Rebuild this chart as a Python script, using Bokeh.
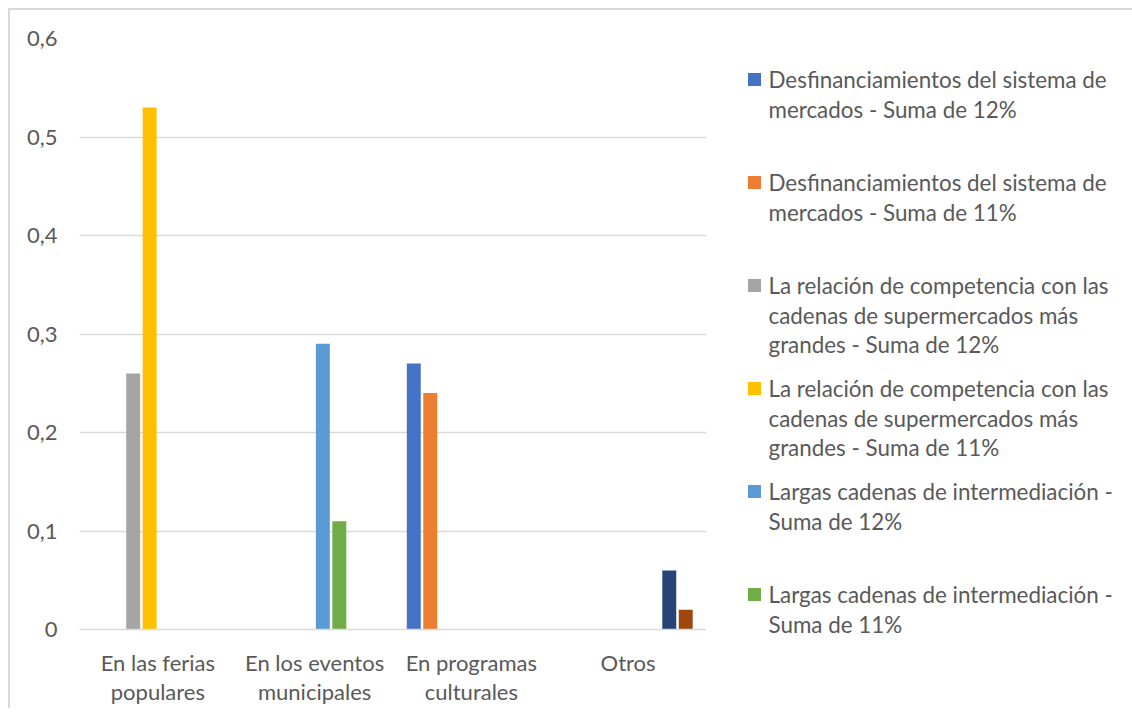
from bokeh.plotting import figure
from bokeh.models import FactorRange, Range1d, FixedTicker, CustomJSTickFormatter
from bokeh.layouts import row
from bokeh.transform import dodge
from bokeh.embed import file_html
from bokeh.resources import INLINE
from bokeh.core.properties import value

# ---------------- data ----------------
categories = ["En las ferias\npopulares", "En los eventos\nmunicipales",
              "En programas\nculturales", "Otros"]

desf_12 = [0.0, 0.0, 0.27, 0.0]
desf_11 = [0.0, 0.0, 0.24, 0.0]
rel_12 = [0.26, 0.0, 0.0, 0.0]
rel_11 = [0.53, 0.0, 0.0, 0.0]
largas_12 = [0.0, 0.29, 0.0, 0.0]
largas_11 = [0.0, 0.11, 0.0, 0.0]
otros_12 = [0.0, 0.0, 0.0, 0.06]
otros_11 = [0.0, 0.0, 0.0, 0.02]

series_values = [desf_12, desf_11, rel_12, rel_11, largas_12, largas_11, otros_12, otros_11]
series_colors = ["#4472C4", "#ED7D31", "#A5A5A5", "#FFC000",
                 "#5B9BD5", "#70AD47", "#264478", "#9E480E"]

legend_labels = [
    ["Desfinanciamientos del sistema de", "mercados - Suma de 12%"],
    ["Desfinanciamientos del sistema de", "mercados - Suma de 11%"],
    ["La relación de competencia con las", "cadenas de supermercados más", "grandes - Suma de 12%"],
    ["La relación de competencia con las", "cadenas de supermercados más", "grandes - Suma de 11%"],
    ["Largas cadenas de intermediación -", "Suma de 12%"],
    ["Largas cadenas de intermediación -", "Suma de 11%"],
]

y_ticks = [0, 0.1, 0.2, 0.3, 0.4, 0.5, 0.6]

# ---------------- style ----------------
FONT = "Lato"
FS = "22px"
TXT = "#595959"
GRID = "#d9d9d9"

MARGIN, BORDER = 8, 2
FRAME_W, FRAME_H = 627, 591
LEFT, TOP, BOTTOM = 69, 28, 76
TOTAL_H = TOP + FRAME_H + BOTTOM

p = figure(x_range=FactorRange(*categories), y_range=Range1d(0, 0.6),
           frame_width=FRAME_W, frame_height=FRAME_H,
           min_border_left=LEFT, min_border_top=TOP, min_border_bottom=BOTTOM,
           min_border_right=0, title_location=None,
           output_backend="svg", toolbar_location=None)

n = len(series_values)
pitch = 0.105
bar_w = 0.089
for i, (vals, col) in enumerate(zip(series_values, series_colors)):
    src = {"x": categories, "top": vals}
    p.vbar(x=dodge("x", (i - (n - 1) / 2) * pitch, range=p.x_range), top="top",
           width=bar_w, source=src, fill_color=col, line_color=None)

p.outline_line_color = None
p.xgrid.grid_line_color = None
p.ygrid.grid_line_color = GRID
p.ygrid.grid_line_width = 1.5

p.yaxis.ticker = FixedTicker(ticks=y_ticks)
p.yaxis.formatter = CustomJSTickFormatter(
    code="var s = tick.toFixed(1).replace('.', ','); return s == '0,0' ? '0' : s;")
p.yaxis.axis_line_color = None
p.yaxis.major_tick_line_color = None
p.yaxis.minor_tick_line_color = None
p.yaxis.major_label_standoff = 16

p.xaxis.axis_line_color = GRID
p.xaxis.axis_line_width = 1.5
p.xaxis.major_tick_line_color = None
p.xaxis.minor_tick_line_color = None
p.xaxis.major_label_standoff = 13
p.xaxis.major_label_text_line_height = 1.1

for ax in (p.xaxis, p.yaxis):
    ax.major_label_text_font = FONT
    ax.major_label_text_font_size = FS
    ax.major_label_text_color = TXT

# ---------------- legend panel ----------------
LEG_W = 1132 - MARGIN - BORDER - (LEFT + FRAME_W)
LEG_H = FRAME_H + BOTTOM
page_left = MARGIN + BORDER + LEFT + FRAME_W
page_top = MARGIN + BORDER + TOP
leg = figure(frame_width=LEG_W, frame_height=LEG_H,
             x_range=Range1d(page_left, page_left + LEG_W),
             y_range=Range1d(page_top + LEG_H, page_top),
             min_border=0, min_border_top=TOP,
             x_axis_location=None, y_axis_location=None,
             title_location=None, output_backend="svg", toolbar_location=None)
leg.grid.visible = False
leg.outline_line_color = None

first_y, item_pitch, line_pitch = 79, 103, 29.5
sq_x, txt_x, sq = 754, 768, 13
sq_xs, sq_ys, sq_cols = [], [], []
tx, ty, tt = [], [], []
for i, lines in enumerate(legend_labels):
    y0 = first_y + i * item_pitch
    sq_xs.append(sq_x)
    sq_ys.append(y0)
    sq_cols.append(series_colors[i])
    for j, line in enumerate(lines):
        tx.append(txt_x)
        ty.append(y0 + j * line_pitch)
        tt.append(line)

leg.rect(x=sq_xs, y=sq_ys, width=sq, height=sq, fill_color=sq_cols, line_color=None)
leg.text(x=tx, y=ty, text=tt, text_font=value(FONT), text_font_size="22.4px",
         text_color=TXT, text_baseline="middle", text_align="left")

layout = row(p, leg, spacing=0)
layout.styles = {"margin-top": f"{MARGIN}px", "margin-left": f"{MARGIN}px",
                 "border-top": f"{BORDER}px solid {GRID}",
                 "border-left": f"{BORDER}px solid {GRID}"}

open("out.html", "w").write(file_html(layout, INLINE))
